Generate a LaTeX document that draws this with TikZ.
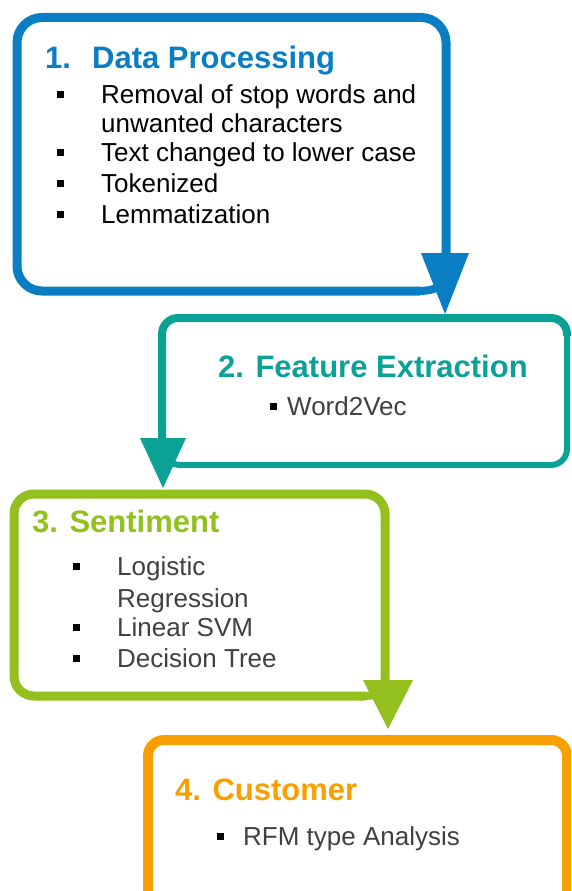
\documentclass[tikz,border=0pt]{standalone}
\usepackage{fontspec}
\setmainfont{Liberation Sans}
\definecolor{cblue}{RGB}{10,126,194}
\definecolor{cteal}{RGB}{11,161,150}
\definecolor{cgreen}{RGB}{147,192,31}
\definecolor{corange}{RGB}{249,160,0}
\definecolor{cgray}{RGB}{64,64,64}
\begin{document}
\begin{tikzpicture}[x=1pt,y=-1pt,
  ttl/.style={anchor=base west, inner sep=0pt, font=\bfseries\fontsize{31}{37}\selectfont},
  itm/.style={anchor=base west, inner sep=0pt, font=\fontsize{26}{31}\selectfont},
  bul/.style={fill=black, minimum size=7pt, inner sep=0pt, draw=none}]
\clip (0,0) rectangle (571,891);
\useasboundingbox (0,0) rectangle (571,891);
% ---------- box 1
\draw[cblue, line width=9pt, rounded corners=25pt] (446,256) -- (446,17.5) -- (17,17.5) -- (17,291) -- (420,291);
\draw[cblue, line width=8pt] (418,291) .. controls (432,291) and (440,288) .. (446,280);
\fill[cblue] (421,253) -- (469,253) -- (445,314) -- cycle;
\node[ttl, text=cblue] (t1) at (45,69) {\makebox[47pt][l]{1.}Data Processing};
\node[bul] (b11) at (60,94) {};
\node[itm] (i11) at (101,103) {Removal of stop words and};
\node[itm] (i12) at (101,132) {unwanted characters};
\node[bul] (b12) at (60,152) {};
\node[itm] (i13) at (101,161) {Text changed to lower case};
\node[bul] (b13) at (60,183) {};
\node[itm] (i14) at (101,192) {Tokenized};
\node[bul] (b14) at (60,214) {};
\node[itm] (i15) at (101,223) {Lemmatization};
% ---------- box 2
\draw[cteal, line width=6pt, rounded corners=16pt] (567,330) -- (567,465) -- (182,465);
\draw[cteal, line width=8pt, rounded corners=16pt] (162,440) -- (162,318) -- (567,318) -- (567,336);
\draw[cteal, line width=6pt] (183,465) .. controls (172,465) and (165,462) .. (163,454);
\fill[cteal] (140,438) -- (186,438) -- (163,488) -- cycle;
\node[ttl, text=cteal] (t2) at (218,377) {2. Feature Extraction};
\node[bul] (b21) at (273,406) {};
\node[itm, text=cgray] (i21) at (287,415) {Word2Vec};
% ---------- box 3
\draw[cgreen, line width=9pt, rounded corners=20pt] (385,683) -- (385,494) -- (14,494) -- (14,696) -- (365,696);
\draw[cgreen, line width=8pt] (363,696) .. controls (376,696) and (383,693) .. (386,685);
\fill[cgreen] (363,680) -- (413,680) -- (388,729) -- cycle;
\node[ttl, text=cgreen] (t3) at (32,532) {3. Sentiment};
\node[bul] (b31) at (76,566) {};
\node[itm, text=cgray] (i31) at (117,575) {Logistic};
\node[itm, text=cgray] (i32) at (117,607) {Regression};
\node[bul] (b32) at (76,627) {};
\node[itm, text=cgray] (i33) at (117,636) {Linear SVM};
\node[bul] (b33) at (76,658) {};
\node[itm, text=cgray] (i34) at (117,667) {Decision Tree};
% ---------- box 4
\draw[corange, line width=10pt, rounded corners=16pt] (148,910) -- (148,740) -- (567,740) -- (567,910);
\node[ttl, text=corange] (t4) at (175,800) {4. Customer};
\node[bul] (b41) at (220,836) {};
\node[itm, text=cgray] (i41) at (243,845) {RFM type Analysis};
\end{tikzpicture}
\end{document}
